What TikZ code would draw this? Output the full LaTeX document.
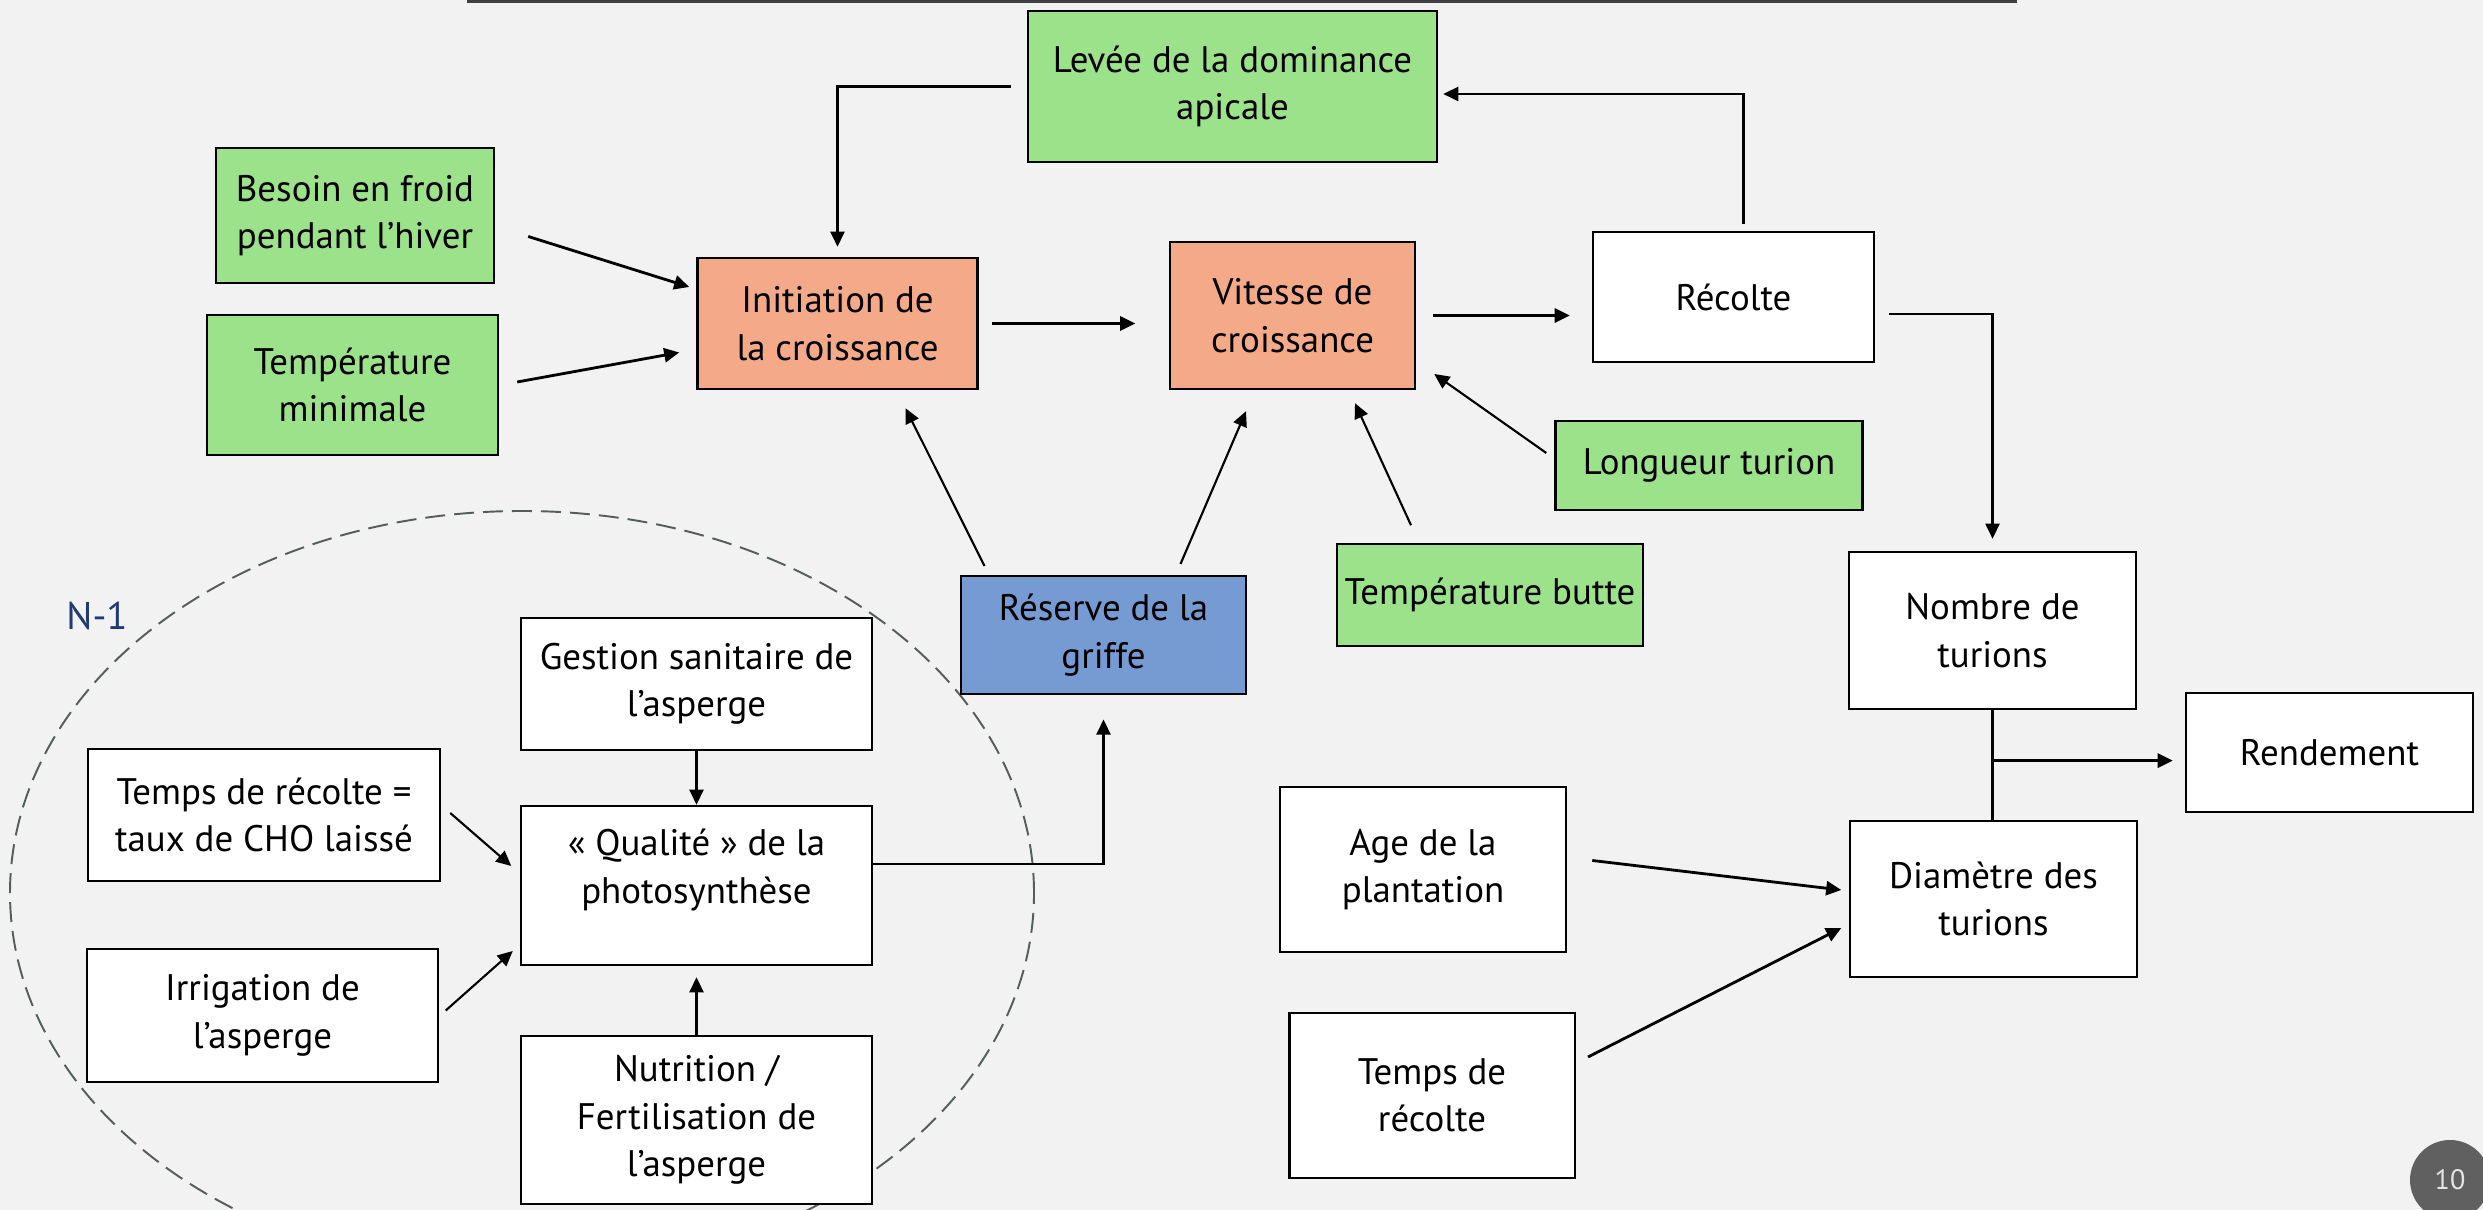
\documentclass[tikz,border=0pt]{standalone}
\usepackage{fontspec}
\setmainfont{PT Sans}
\usetikzlibrary{arrows.meta,calc}

\definecolor{fond}{HTML}{F2F2F2}
\definecolor{vert}{HTML}{9BE28B}
\definecolor{orange}{HTML}{F4AA88}
\definecolor{bleu}{HTML}{769BD3}
\definecolor{bleunuit}{HTML}{1F3B73}
\definecolor{tirets}{HTML}{555C5C}
\definecolor{grisnum}{HTML}{606060}

\tikzset{
	Boite/.style = {draw=black, line width=0.7pt, fill=white, align=center, inner sep=1pt,
		font=\fontsize{10.5}{13.5}\selectfont},
	Fleche/.style = {-{Triangle[length=4.3pt,width=4pt]}, line width=0.6pt},
	FlecheForte/.style = {Fleche, line width=0.8pt}
}

\begin{document}
\begin{tikzpicture}
	\useasboundingbox (0,0) rectangle (24.83,12.10);
	\clip (0,0) rectangle (24.83,12.10);
	\fill[fond] (0,0) rectangle (24.83,12.10);
	\draw[line width=1.8pt, color=black!75] (4.67,12.10) -- (20.17,12.10);
	\draw[tirets, line width=0.55pt, dash pattern=on 0.2cm off 0.09cm] (5.22,3.17) ellipse [x radius=5.12, y radius=3.82];
	\node[text=bleunuit, font=\fontsize{11}{13}\selectfont] (annee) at (0.97,5.94) {N-1};
	\begin{scope}[Boite/.append style = {fill=vert}]
		\node[Boite, minimum width=4.09cm, minimum height=1.51cm] (levee) at (12.325,11.235) {Levée de la dominance\\apicale};
		\node[Boite, minimum width=2.78cm, minimum height=1.35cm] (besoin) at (3.55,9.945) {Besoin en froid\\pendant l’hiver};
		\node[Boite, minimum width=2.91cm, minimum height=1.40cm] (tmin) at (3.525,8.25) {Température\\minimale};
		\node[Boite, minimum width=3.07cm, minimum height=0.89cm] (longueur) at (17.09,7.445) {Longueur turion};
		\node[Boite, minimum width=3.06cm, minimum height=1.02cm] (butte) at (14.90,6.15) {Température butte};
	\end{scope}
	\begin{scope}[Boite/.append style = {fill=orange}]
		\node[Boite, minimum width=2.80cm, minimum height=1.31cm] (initiation) at (8.375,8.865) {Initiation de\\la croissance};
		\node[Boite, minimum width=2.45cm, minimum height=1.47cm] (vitesse) at (12.925,8.945) {Vitesse de\\croissance};
	\end{scope}
	\node[Boite, fill=bleu, minimum width=2.85cm, minimum height=1.185cm] (reserve) at (11.035,5.75) {Réserve de la\\griffe};
	\node[Boite, minimum width=2.81cm, minimum height=1.30cm] (recolte) at (17.335,9.13) {Récolte};
	\node[Boite, minimum width=2.87cm, minimum height=1.57cm] (nombre) at (19.925,5.795) {Nombre de\\turions};
	\node[Boite, minimum width=2.87cm, minimum height=1.19cm] (rendement) at (23.295,4.575) {Rendement};
	\node[Boite, minimum width=2.87cm, minimum height=1.56cm] (diametre) at (19.935,3.11) {Diamètre des\\turions};
	\node[Boite, minimum width=2.86cm, minimum height=1.65cm] (age) at (14.23,3.405) {Age de la\\plantation};
	\node[Boite, minimum width=2.855cm, minimum height=1.65cm] (tempsrec) at (14.32,1.145) {Temps de\\récolte};
	\node[Boite, minimum width=3.51cm, minimum height=1.32cm] (gestion) at (6.965,5.26) {Gestion sanitaire de\\l’asperge};
	\node[Boite, minimum width=3.51cm, minimum height=1.59cm] (qualite) at (6.965,3.245) {« Qualité » de la\\photosynthèse\\[-0.09cm]\mbox{}};
	\node[Boite, minimum width=3.52cm, minimum height=1.32cm] (cho) at (2.64,3.95) {Temps de récolte =\\taux de CHO laissé};
	\node[Boite, minimum width=3.51cm, minimum height=1.33cm] (irrig) at (2.625,1.945) {Irrigation de\\l’asperge};
	\node[Boite, minimum width=3.51cm, minimum height=1.68cm] (nutrition) at (6.965,0.90) {Nutrition /\\Fertilisation de\\l’asperge};
	\node[circle, fill=grisnum, text=white!90!black, minimum size=0.8cm, inner sep=0pt, font=\fontsize{8}{9}\selectfont] (numero) at (24.50,0.30) {10};

	\draw[Fleche, shorten <=0.16cm, shorten >=0.1cm] (levee.west) -| (initiation.north);
	\draw[Fleche, shorten <=0.07cm, shorten >=0.05cm] ([xshift=0.1cm]recolte.north) |- ([yshift=-0.075cm]levee.east);
	\draw[FlecheForte] ($(besoin.east)+(0.33,-0.21)$) -- ($(initiation.west)+(-0.07,0.365)$);
	\draw[FlecheForte] ($(tmin.east)+(0.18,0.03)$) -- ($(initiation.west)+(-0.17,-0.29)$);
	\draw[FlecheForte, shorten <=0.135cm, shorten >=0.335cm] (initiation.east) -- (initiation.east -| vitesse.west);
	\draw[FlecheForte, shorten <=0.17cm, shorten >=0.22cm] (vitesse.east) -- (vitesse.east -| recolte.west);
	\draw[Fleche] ($(longueur.west)+(-0.08,0.125)$) -- ($(vitesse.east)+(0.18,-0.585)$);
	\draw[Fleche] ($(butte.north)+(-0.79,0.175)$) -- ($(vitesse.south)+(0.625,-0.13)$);
	\draw[Fleche] ($(reserve.north)+(-1.19,0.085)$) -- ($(initiation.south)+(0.68,-0.18)$);
	\draw[Fleche] ($(reserve.north)+(0.77,0.105)$) -- ($(vitesse.south)+(-0.465,-0.21)$);
	\draw[Fleche, shorten <=0.14cm, shorten >=0.12cm] ([yshift=-0.17cm]recolte.east) -| (nombre.north);
	\draw[line width=0.6pt] (nombre.south) -- (nombre.south |- diametre.north);
	\coordinate (jonction) at ($(nombre.south)!0.46!(nombre.south |- diametre.north)$);
	\draw[FlecheForte, shorten >=0.12cm] (jonction) -- (jonction -| rendement.west);
	\draw[FlecheForte] ($(age.east)+(0.25,0.09)$) -- ($(diametre.west)+(-0.075,0.09)$);
	\draw[FlecheForte] ($(tempsrec.east)+(0.12,0.385)$) -- ($(diametre.west)+(-0.075,-0.29)$);
	\draw[Fleche] (gestion) -- (qualite);
	\draw[Fleche, shorten >=0.11cm] (nutrition) -- (qualite);
	\draw[Fleche] ($(cho.east)+(0.09,0.02)$) -- ($(qualite.west)+(-0.085,0.195)$);
	\draw[Fleche] ($(irrig.east)+(0.065,0.05)$) -- ($(qualite.west)+(-0.07,-0.655)$);
	\draw[Fleche, shorten >=0.24cm] ([yshift=0.215cm]qualite.east) -| (reserve.south);
\end{tikzpicture}
\end{document}
